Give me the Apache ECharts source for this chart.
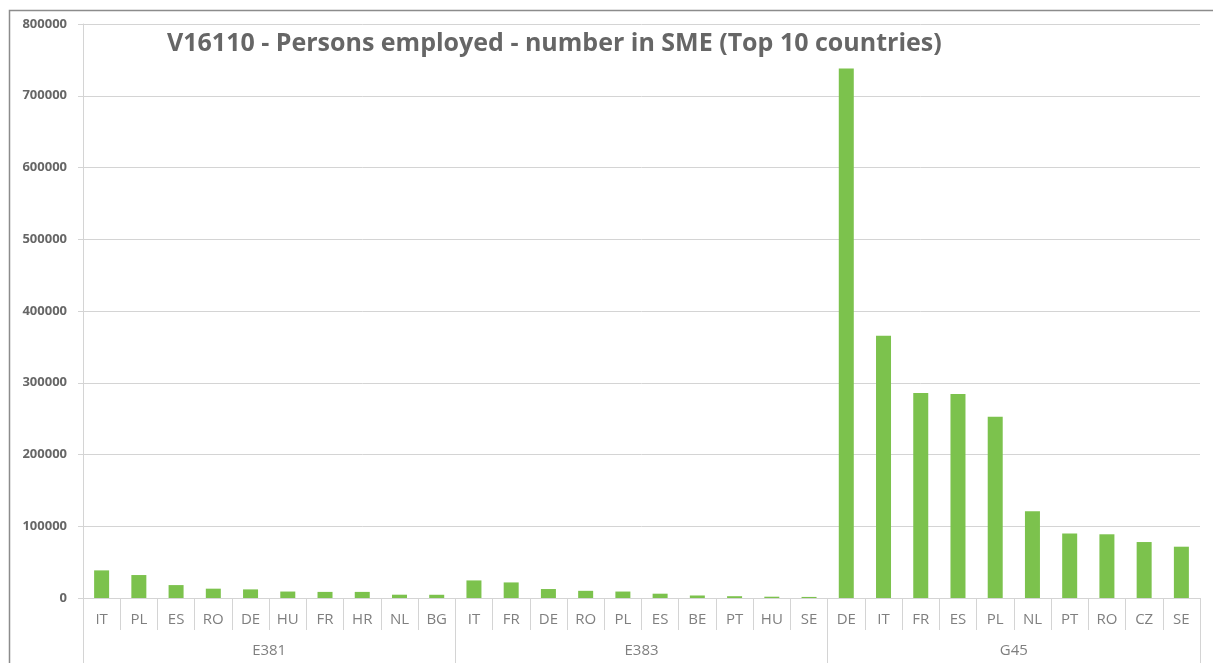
<!DOCTYPE html>
<html>
<head>
<meta charset="utf-8">
<script src="https://cdn.jsdelivr.net/npm/echarts@6/dist/echarts.min.js"></script>
<style>
  html, body { margin: 0; padding: 0; background: #fff; }
  #chart { width: 1213px; height: 663px; }
</style>
</head>
<body>
<div id="chart"></div>
<script>
// groups of NACE codes, each with its top 10 countries
var groups = ['E381', 'E383', 'G45'];
var countries = [
  'IT', 'PL', 'ES', 'RO', 'DE', 'HU', 'FR', 'HR', 'NL', 'BG',
  'IT', 'FR', 'DE', 'RO', 'PL', 'ES', 'BE', 'PT', 'HU', 'SE',
  'DE', 'IT', 'FR', 'ES', 'PL', 'NL', 'PT', 'RO', 'CZ', 'SE'
];
var employed = [
  38500, 32000, 18000, 13000, 12000, 9000, 8500, 8500, 4600, 4500,
  24500, 21700, 12500, 10000, 9000, 6000, 3500, 2500, 1800, 1500,
  738000, 365500, 285700, 284300, 252700, 121000, 90000, 88800, 78000, 71500
];
var yTicks = { min: 0, max: 800000, interval: 100000 };

var gray = '#d4d4d4';
var labelColor = '#7f7f7f';

var myChart = echarts.init(document.getElementById('chart'));
myChart.setOption({
  animation: false,
  title: {
    text: 'V16110 - Persons employed - number in SME (Top 10 countries)',
    left: 162,
    top: 26,
    textStyle: {
      fontFamily: 'Open Sans',
      fontSize: 25,
      fontWeight: 'bold',
      color: '#666666'
    }
  },
  graphic: [{
    type: 'rect',
    left: 7,
    top: 8,
    shape: { width: 1220, height: 670 },
    style: { fill: 'none', stroke: '#8c8c8c', lineWidth: 1.5 },
    silent: true
  }],
  grid: { left: 83, right: 13, top: 24, bottom: 65 },
  xAxis: [
    {
      type: 'category',
      data: countries,
      position: 'bottom',
      axisLine: { show: true, lineStyle: { color: gray } },
      axisTick: { show: true, interval: 0, length: 32, lineStyle: { color: gray } },
      axisLabel: {
        interval: 0,
        margin: 14,
        fontFamily: 'Open Sans',
        fontSize: 15,
        color: labelColor
      }
    },
    {
      type: 'category',
      data: groups,
      position: 'bottom',
      axisLine: { show: false },
      axisTick: { show: true, interval: 0, length: 70, lineStyle: { color: gray } },
      axisLabel: {
        interval: 0,
        margin: 45,
        fontFamily: 'Open Sans',
        fontSize: 15,
        color: labelColor
      }
    }
  ],
  yAxis: {
    type: 'value',
    min: yTicks.min,
    max: yTicks.max,
    interval: yTicks.interval,
    axisLine: { show: true, lineStyle: { color: gray } },
    axisTick: { show: true, length: 5, lineStyle: { color: gray } },
    splitLine: { show: true, lineStyle: { color: gray, width: 1 } },
    axisLabel: {
      margin: 16,
      fontFamily: 'Open Sans',
      fontSize: 13,
      fontWeight: 'bold',
      color: '#666666',
      formatter: function (v) { return String(v); }
    }
  },
  series: [{
    type: 'bar',
    xAxisIndex: 0,
    barWidth: 15,
    itemStyle: { color: '#7cc24d' },
    data: employed
  }]
});
</script>
</body>
</html>
